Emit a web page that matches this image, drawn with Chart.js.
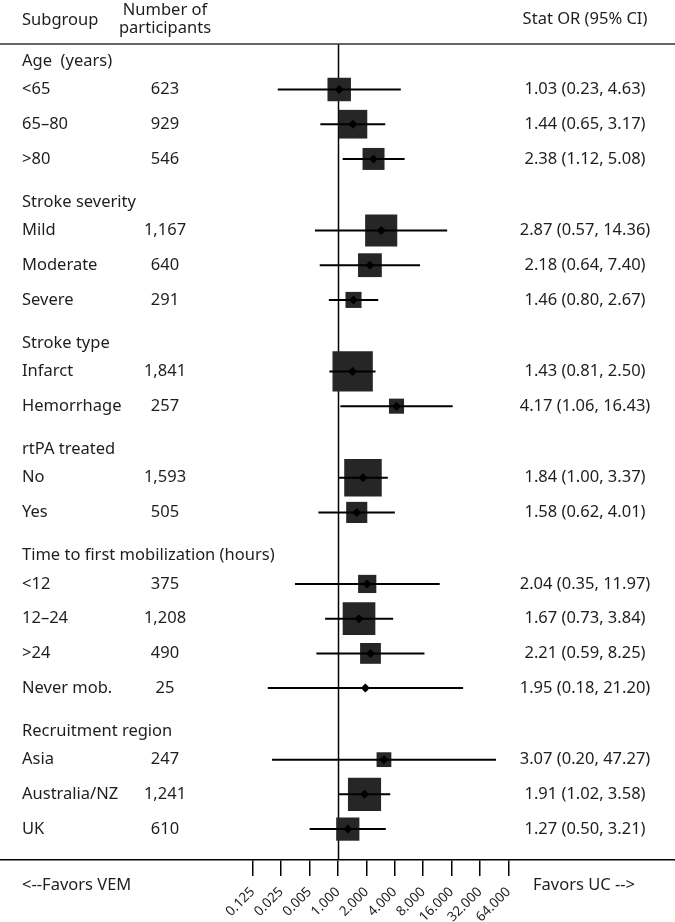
<!DOCTYPE html>
<html>
<head>
<meta charset="utf-8">
<script src="https://cdn.jsdelivr.net/npm/chart.js@4.4.1/dist/chart.umd.min.js"></script>
<style>
  body { margin: 0; background: #fff; }
  #wrap { width: 675px; height: 922px; position: relative; }
</style>
</head>
<body>
<div id="wrap"><canvas id="forest"></canvas></div>
<script>
// Subgroup sections and how many rows each one has
const sections = ['Age  (years)', 'Stroke severity', 'Stroke type', 'rtPA treated', 'Time to first mobilization (hours)', 'Recruitment region'];
const sectionSizes = [3, 3, 2, 2, 4, 3];

const subgroups = ['<65', '65–80', '>80', 'Mild', 'Moderate', 'Severe', 'Infarct', 'Hemorrhage', 'No', 'Yes',
    '<12', '12–24', '>24', 'Never mob.', 'Asia', 'Australia/NZ', 'UK'];
const participants = [623, 929, 546, 1167, 640, 291, 1841, 257, 1593, 505, 375, 1208, 490, 25, 247, 1241, 610];
const oddsRatio = [1.03, 1.44, 2.38, 2.87, 2.18, 1.46, 1.43, 4.17, 1.84, 1.58, 2.04, 1.67, 2.21, 1.95, 3.07, 1.91, 1.27];
const ciLower = [0.23, 0.65, 1.12, 0.57, 0.64, 0.80, 0.81, 1.06, 1.00, 0.62, 0.35, 0.73, 0.59, 0.18, 0.20, 1.02, 0.50];
const ciUpper = [4.63, 3.17, 5.08, 14.36, 7.40, 2.67, 2.50, 16.43, 3.37, 4.01, 11.97, 3.84, 8.25, 21.20, 47.27, 3.58, 3.21];

// x axis ticks (labels as printed in the original figure)
const tickValues = [0.125, 0.25, 0.5, 1, 2, 4, 8, 16, 32, 64];
const tickLabels = ['0.125', '0.025', '0.005', '1.000', '2.000', '4.000', '8.000', '16.000', '32.000', '64.000'];

const textColor = '#1e1e1e';
const fontFamily = "'Noto Sans', 'Open Sans', sans-serif";
Chart.defaults.font.family = fontFamily;

// row layout: spacing in row units
const headerGap = 0.82;
const sectionGap = 1.24;
const headerPos = [];
const rowPos = [];
let pos = 0;
sections.forEach((s, si) => {
    if (si > 0) pos += sectionGap;
    headerPos.push(pos);
    for (let k = 0; k < sectionSizes[si]; k++) {
        pos += (k === 0 ? headerGap : 1);
        rowPos.push(pos);
    }
});

// box side grows with sqrt of participants
const boxRadius = participants.map((n) => 0.665 * Math.sqrt(n));

const ciDatasets = subgroups.map((g, i) => ({
    type: 'scatter',
    data: [{ x: ciLower[i], y: rowPos[i] }, { x: ciUpper[i], y: rowPos[i] }],
    showLine: true,
    borderColor: '#000',
    borderWidth: 2,
    pointRadius: 0,
    order: 1,
}));

const fmt = (v) => v.toFixed(2);

// text columns, header lines and reference line
const tablePlugin = {
    id: 'forestTable',
    afterDatasetsDraw(chart) {
        const { ctx, chartArea, scales } = chart;
        const y = scales.y;
        ctx.save();
        ctx.fillStyle = textColor;
        ctx.font = `16.5px ${fontFamily}`;
        ctx.textBaseline = 'middle';

        // column headers
        ctx.textAlign = 'left';
        ctx.fillText('Subgroup', 22, 20);
        ctx.textAlign = 'center';
        ctx.fillText('Number of', 165, 10);
        ctx.fillText('participants', 165, 28);
        ctx.fillText('Stat OR (95% CI)', 585, 19);

        // section headers
        ctx.textAlign = 'left';
        sections.forEach((s, i) => ctx.fillText(s, 22, y.getPixelForValue(headerPos[i])));

        // rows
        subgroups.forEach((g, i) => {
            const py = y.getPixelForValue(rowPos[i]);
            ctx.textAlign = 'left';
            ctx.fillText(g, 22, py);
            ctx.textAlign = 'center';
            ctx.fillText(participants[i].toLocaleString('en-US'), 165, py);
            ctx.fillText(`${fmt(oddsRatio[i])} (${fmt(ciLower[i])}, ${fmt(ciUpper[i])})`, 585, py);
        });

        // favors labels
        ctx.textAlign = 'left';
        ctx.fillText('<--Favors VEM', 22, 885);
        ctx.fillText('Favors UC -->', 533, 885);

        // top rule
        ctx.strokeStyle = '#333';
        ctx.lineWidth = 1.5;
        ctx.beginPath();
        ctx.moveTo(0, chartArea.top);
        ctx.lineTo(chart.width, chartArea.top);
        ctx.stroke();
        ctx.restore();
    },
    beforeDatasetsDraw(chart) {
        const { ctx, chartArea, scales } = chart;
        const px = Math.round(scales.x.getPixelForValue(1)) + 0.5;
        ctx.save();
        ctx.strokeStyle = '#000';
        ctx.lineWidth = 1.5;
        ctx.beginPath();
        ctx.moveTo(px, chartArea.top);
        ctx.lineTo(px, chartArea.bottom);
        ctx.stroke();
        ctx.restore();
    },
};

const pxPerDoubling = 28.4;
const onePixel = 338;

new Chart(document.getElementById('forest'), {
    type: 'scatter',
    data: {
        datasets: [
            {
                label: 'OR',
                data: oddsRatio.map((v, i) => ({ x: v, y: rowPos[i] })),
                pointStyle: 'rectRot',
                pointRadius: 4.5,
                backgroundColor: '#000',
                borderWidth: 0,
                order: 0,
            },
            ...ciDatasets,
            {
                label: 'weight',
                data: oddsRatio.map((v, i) => ({ x: v, y: rowPos[i] })),
                pointStyle: 'rect',
                pointRadius: boxRadius,
                backgroundColor: '#262626',
                borderWidth: 0,
                order: 2,
            },
        ],
    },
    options: {
        responsive: true,
        maintainAspectRatio: false,
        animation: false,
        events: [],
        layout: { padding: { top: 44, left: 0, right: 0, bottom: 0 }, autoPadding: false },
        plugins: { legend: { display: false }, tooltip: { enabled: false } },
        scales: {
            x: {
                type: 'logarithmic',
                min: Math.pow(2, -onePixel / pxPerDoubling),
                max: Math.pow(2, (675 - onePixel) / pxPerDoubling),
                afterBuildTicks: (scale) => {
                    scale.ticks = tickValues.map((v) => ({ value: v }));
                },
                afterFit: (scale) => {
                    scale.height = 62;
                },
                ticks: {
                    autoSkip: false,
                    minRotation: 45,
                    maxRotation: 45,
                    padding: 8,
                    color: textColor,
                    font: { size: 13.5 },
                    callback: (val, i) => tickLabels[i],
                },
                grid: {
                    drawOnChartArea: false,
                    drawTicks: true,
                    tickLength: 16,
                    color: '#000',
                    lineWidth: 1.5,
                },
                border: { display: true, color: '#000', width: 1.5 },
            },
            y: {
                type: 'linear',
                display: false,
                reverse: true,
                min: -0.49,
                max: rowPos[rowPos.length - 1] + 0.89,
            },
        },
    },
    plugins: [tablePlugin],
});
</script>
</body>
</html>
